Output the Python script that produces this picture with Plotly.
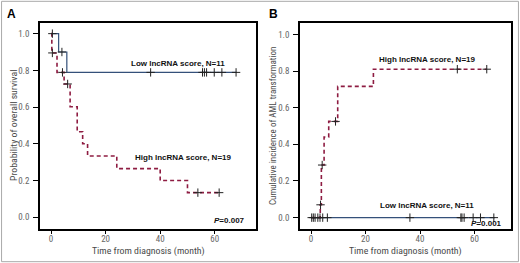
import plotly.graph_objects as go

# ---- Panel A: overall survival ----
a_low_t = [0, 2.8, 5.8, 68.0]
a_low_s = [1.0, 0.9, 0.789, 0.789]
a_low_cens_t = [0.5, 4.0, 36.5, 55.5, 56.2, 57.0, 59.8, 62.6, 67.8]
a_low_cens_s = [1.0, 0.9, 0.789, 0.789, 0.789, 0.789, 0.789, 0.789, 0.789]

a_high_t = [0, 0.3, 2.2, 4.8, 7.0, 9.6, 11.6, 13.4, 24.1, 40.0, 50.0, 62.2]
a_high_s = [1.0, 0.895, 0.789, 0.726, 0.602, 0.466, 0.40, 0.334, 0.265, 0.20, 0.134, 0.134]
a_high_cens_t = [0.5, 4.2, 6.1, 53.8, 61.6]
a_high_cens_s = [0.895, 0.789, 0.726, 0.134, 0.134]

# ---- Panel B: cumulative incidence of AML transformation ----
b_high_t = [0, 3.4, 3.8, 4.8, 6.5, 9.8, 22.9, 64.5]
b_high_c = [0, 0.07, 0.287, 0.44, 0.525, 0.716, 0.81, 0.81]
b_high_cens_t = [3.5, 4.1, 9.0, 53.7, 64.5]
b_high_cens_c = [0.07, 0.287, 0.525, 0.81, 0.81]

b_low_t = [0, 67.5]
b_low_c = [0, 0]
b_low_cens_t = [0.25, 0.85, 1.5, 2.5, 3.3, 4.3, 6.0, 36.3, 55.0, 55.4, 56.2, 59.5, 62.2, 67.1]
b_low_cens_c = [0] * len(b_low_cens_t)

y_ticks = [0.0, 0.2, 0.4, 0.6, 0.8, 1.0]
x_ticks = [0, 20, 40, 60]

LOW_COL = "#34507a"
HIGH_COL = "#8e1c42"
CENS_COL = "#222222"
FONT = "Liberation Sans Narrow, Roboto Condensed, DejaVu Sans Condensed, Arial, sans-serif"

fig = go.Figure()

def step(x, y, color, dash, xa, ya, width):
    fig.add_trace(go.Scatter(x=x, y=y, mode="lines", line=dict(color=color, width=width, dash=dash, shape="hv"),
                             xaxis=xa, yaxis=ya, showlegend=False, hoverinfo="skip"))

def cens(x, y, xa, ya):
    fig.add_trace(go.Scatter(x=x, y=y, mode="markers",
                             marker=dict(symbol="cross-thin-open", size=6, color=CENS_COL,
                                         line=dict(color=CENS_COL, width=1)),
                             xaxis=xa, yaxis=ya, showlegend=False, hoverinfo="skip"))

# Panel A
step(a_high_t, a_high_s, HIGH_COL, "4px,3px", "x", "y", 1.6)
step(a_low_t, a_low_s, LOW_COL, "solid", "x", "y", 1.2)
cens(a_low_cens_t, a_low_cens_s, "x", "y")
cens(a_high_cens_t, a_high_cens_s, "x", "y")

# Panel B
step(b_high_t, b_high_c, HIGH_COL, "4px,3px", "x2", "y2", 1.6)
step(b_low_t, b_low_c, LOW_COL, "solid", "x2", "y2", 1.2)
cens(b_low_cens_t, b_low_cens_c, "x2", "y2")
cens(b_high_cens_t, b_high_cens_c, "x2", "y2")

axis_common = dict(showgrid=False, zeroline=False, showline=True, linecolor="black", linewidth=1.8,
                   mirror=True, ticks="outside", tickcolor="black", tickwidth=1,
                   tickfont=dict(family=FONT, size=9, color="#666666"))
x_common = dict(ticklen=3, ticklabelstandoff=-3, **axis_common)
y_common = dict(ticklen=5, ticklabelstandoff=2, **axis_common)

fig.update_layout(
    width=520, height=263, margin=dict(l=0, r=0, t=0, b=0),
    paper_bgcolor="white", plot_bgcolor="white",
    xaxis=dict(domain=[40/520, 256/520], range=[-4.03, 75.1], tickvals=x_ticks, anchor="y", **x_common),
    yaxis=dict(domain=[1-229/263, 1-23/263], range=[-0.064, 1.058], tickvals=y_ticks, tickformat=".1f",
               anchor="x", **y_common),
    xaxis2=dict(domain=[300/520, 511/520], range=[-4.04, 73.4], tickvals=x_ticks, anchor="y2", **x_common),
    yaxis2=dict(domain=[1-229/263, 1-23/263], range=[-0.062, 1.062], tickvals=y_ticks, tickformat=".1f",
                anchor="x2", **y_common),
)

ann_font = dict(family="Arial, Liberation Sans, sans-serif", size=8, color="#111111")
title_font = dict(family=FONT, size=9.8, color="#4a4a4a")
title_font_b = dict(family=FONT, size=9, color="#4a4a4a")
ymid = 1 - 126/263
annotations = [
    dict(text="<b>Low lncRNA score, N=11</b>", x=46.5, y=0.84, xref="x", yref="y", showarrow=False, font=ann_font),
    dict(text="<b>High lncRNA score, N=19</b>", x=48.7, y=0.323, xref="x", yref="y", showarrow=False, font=ann_font),
    dict(text="<b><i>P</i>=0.007</b>", x=71.8, y=-0.015, xref="x", yref="y", showarrow=False, xanchor="right", font=ann_font),
    dict(text="<b>High lncRNA score, N=19</b>", x=42.9, y=0.864, xref="x2", yref="y2", showarrow=False, font=ann_font),
    dict(text="<b>Low lncRNA score, N=11</b>", x=42.6, y=0.065, xref="x2", yref="y2", showarrow=False, font=ann_font),
    dict(text="<b><i>P</i>=0.001</b>", x=70.8, y=-0.032, xref="x2", yref="y2", showarrow=False, xanchor="right", font=ann_font),
    dict(text="<b>A</b>", x=11/520, y=1-14/263, xref="paper", yref="paper", showarrow=False,
         xanchor="center", yanchor="middle",
         font=dict(family="Arial, Liberation Sans, sans-serif", size=12, color="black")),
    dict(text="<b>B</b>", x=273/520, y=1-14/263, xref="paper", yref="paper", showarrow=False,
         xanchor="center", yanchor="middle",
         font=dict(family="Arial, Liberation Sans, sans-serif", size=12, color="black")),
    # axis titles
    dict(text="Time from diagnosis (month)", x=148/520, y=1-251/263, xref="paper", yref="paper",
         xanchor="center", yanchor="middle", showarrow=False, font=title_font),
    dict(text="Time from diagnosis (month)", x=405/520, y=1-251/263, xref="paper", yref="paper",
         xanchor="center", yanchor="middle", showarrow=False, font=title_font),
    dict(text="Probability of overall survival", x=13/520, y=ymid, xref="paper", yref="paper",
         xanchor="center", yanchor="middle", showarrow=False, textangle=-90, font=title_font),
    dict(text="Cumulative incidence of AML transformation", x=273/520, y=ymid, xref="paper", yref="paper",
         xanchor="center", yanchor="middle", showarrow=False, textangle=-90, font=title_font_b),
]
fig.update_layout(annotations=annotations)

fig.add_shape(type="rect", xref="paper", yref="paper", x0=0.003, y0=0.005, x1=0.997, y1=0.995,
              line=dict(color="#aaaaaa", width=1))

fig.write_html("out.html", config={"displayModeBar": False, "staticPlot": True},
               post_script="document.body.style.margin='0';document.body.style.padding='0';")
